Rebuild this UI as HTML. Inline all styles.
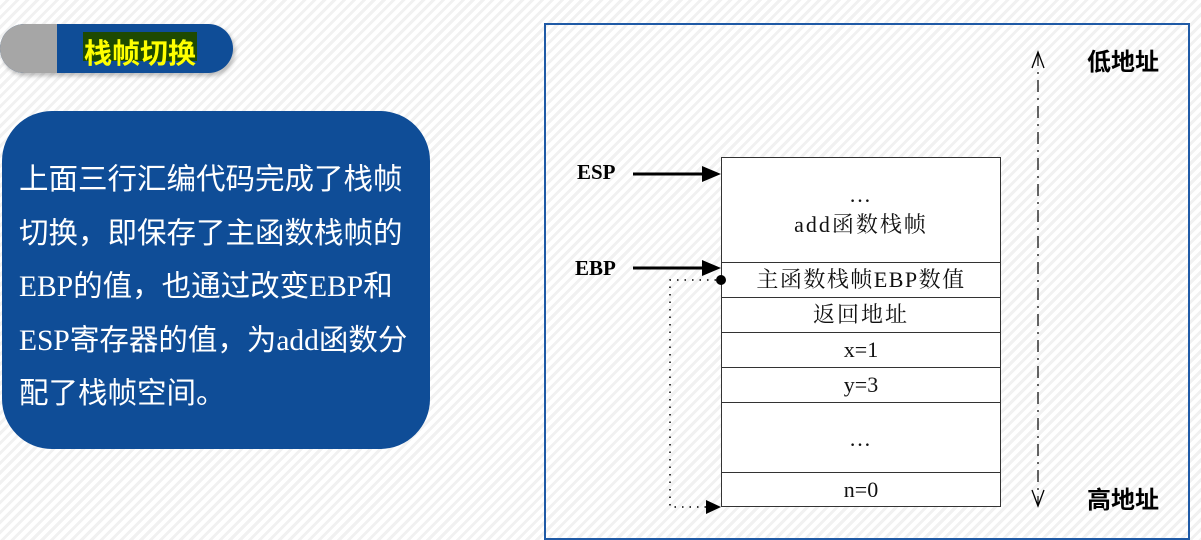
<!DOCTYPE html>
<html><head><meta charset="utf-8"><style>
html,body{margin:0;padding:0}
body{width:1201px;height:540px;position:relative;overflow:hidden;font-family:"Liberation Serif","Noto Serif CJK SC",serif;
background:repeating-linear-gradient(135deg,#fff 0 4px,#f1f1f1 4px 7px);}
.abs{position:absolute}
#pill{left:0;top:24px;width:233px;height:49px;border-radius:25px;overflow:hidden;box-shadow:2px 3px 4px rgba(0,0,0,.25);background:#0f4d97}
#pill .g{position:absolute;left:0;top:0;width:57px;height:49px;background:#a6a6a6}
#pill .t{position:absolute;left:83px;top:8px;height:29px;line-height:29px;font:bold 28px "Noto Sans CJK SC",sans-serif;color:#ffff00;background:#1e4a00;padding:0 1px}
#box{left:2px;top:111px;width:428px;height:338px;border-radius:50px;background:#0f4d97}
#box div{position:absolute;left:17px;top:43px;color:#fff;font-size:29.5px;line-height:53.5px;font-family:"Liberation Serif","Noto Sans CJK SC",sans-serif;white-space:nowrap}
#panel{left:544px;top:23px;width:642px;height:513px;border:2px solid #1f5aa6}
.cell{position:absolute;left:721px;width:280px;border:1px solid #333;box-sizing:border-box;background:#fff;text-align:center;font-size:22px;color:#111;letter-spacing:2px;white-space:nowrap}
</style></head><body>
<div id="pill" class="abs"><div class="g"></div><div class="t">栈帧切换</div></div>
<div id="box" class="abs"><div>上面三行汇编代码完成了栈帧<br>切换，即保存了主函数栈帧的<br>EBP的值，也通过改变EBP和<br>ESP寄存器的值，为add函数分<br>配了栈帧空间。</div></div>
<div id="panel" class="abs"></div>
<div class="cell" style="top:157px;height:106px;padding-top:22px;line-height:30px">…<br>add函数栈帧</div>
<div class="cell" style="top:262px;height:36px;line-height:34px;letter-spacing:1.5px">主函数栈帧EBP数值</div>
<div class="cell" style="top:297px;height:36px;line-height:34px">返回地址</div>
<div class="cell" style="top:332px;height:36px;line-height:34px;letter-spacing:0">x=1</div>
<div class="cell" style="top:367px;height:36px;line-height:34px;letter-spacing:0">y=3</div>
<div class="cell" style="top:402px;height:71px;line-height:72px">…</div>
<div class="cell" style="top:472px;height:35px;line-height:33px;letter-spacing:0">n=0</div>
<div class="abs" style="left:577px;top:160px;font:bold 21px 'Liberation Serif',serif">ESP</div>
<div class="abs" style="left:575px;top:256px;font:bold 21px 'Liberation Serif',serif">EBP</div>
<div class="abs" style="left:1087px;top:42px;font:bold 24px 'Noto Sans CJK SC',sans-serif">低地址</div>
<div class="abs" style="left:1087px;top:480px;font:bold 24px 'Noto Sans CJK SC',sans-serif">高地址</div>
<svg class="abs" style="left:0;top:0" width="1201" height="540">
<line x1="633" y1="174" x2="705" y2="174" stroke="#000" stroke-width="3"/>
<polygon points="721,174 702,166 702,182" fill="#000"/>
<line x1="633" y1="268" x2="705" y2="268" stroke="#000" stroke-width="3"/>
<polygon points="721,268 702,260 702,276" fill="#000"/>
<circle cx="721" cy="280" r="5" fill="#000"/>
<polyline points="716,280 670,280 670,507 707,507" fill="none" stroke="#000" stroke-width="1.5" stroke-dasharray="1.5,6"/>
<polygon points="721,507 706,500 706,514" fill="#000"/>
<line x1="1038" y1="54" x2="1038" y2="505" stroke="#000" stroke-width="1.2" stroke-dasharray="12,6,2,6"/>
<polyline points="1032,68 1038,52 1044,68" fill="none" stroke="#000" stroke-width="1.3"/>
<polyline points="1032,490 1038,506 1044,490" fill="none" stroke="#000" stroke-width="1.3"/>
</svg>
</body></html>
